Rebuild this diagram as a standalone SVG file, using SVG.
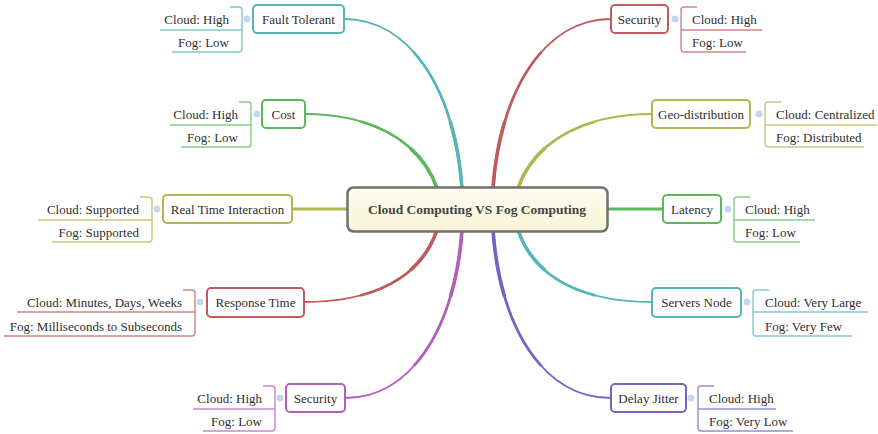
<svg xmlns="http://www.w3.org/2000/svg" width="878" height="434" viewBox="0 0 878 434">
<style>
.t{font-family:"Liberation Serif","DejaVu Serif",serif;font-size:13px;fill:#2e2e2e;font-weight:normal}
.ctr{font-family:"Liberation Serif","DejaVu Serif",serif;font-weight:bold;font-size:13.5px;fill:#444}
.box{fill:#fff;stroke-width:2}
.lf{fill:none;stroke-width:1.4;opacity:.75}
.dot{fill:#c6d6f0}
.con path{fill:none}
.w1{stroke-width:1.8}
.w2{stroke-width:2.7;stroke-dasharray:0 35 65}
.w3{stroke-width:3.6;stroke-dasharray:0 70 30}
.hz{stroke-width:3}
.teal{stroke:#55b5b8}.green{stroke:#5cb85c}.olive{stroke:#b3b650}.red{stroke:#c05a5c}.mag{stroke:#b25cbc}.blue{stroke:#6f66c4}
.e{text-anchor:end}.m{text-anchor:middle}
</style>
<defs>
<linearGradient id="cg" x1="0" y1="0" x2="0" y2="1">
<stop offset="0" stop-color="#fdfcef"/><stop offset="1" stop-color="#f8f4d6"/>
</linearGradient>
</defs>
<rect width="878" height="434" fill="#fff"/>
<g id="connectors" class="con" fill="none">
<g class="teal"><path class="w1" d="M344,19 C410,19 455,90 462,188"/><path class="w2" pathLength="100" d="M344,19 C410,19 455,90 462,188"/><path class="w3" pathLength="100" d="M344,19 C410,19 455,90 462,188"/></g>
<g class="green"><path class="w1" d="M305,114 C370,114 420,140 437,188"/><path class="w2" pathLength="100" d="M305,114 C370,114 420,140 437,188"/><path class="w3" pathLength="100" d="M305,114 C370,114 420,140 437,188"/></g>
<path class="olive hz" d="M292,209 H348"/>
<g class="red"><path class="w1" d="M304,302 C370,302 420,280 437,230"/><path class="w2" pathLength="100" d="M304,302 C370,302 420,280 437,230"/><path class="w3" pathLength="100" d="M304,302 C370,302 420,280 437,230"/></g>
<g class="mag"><path class="w1" d="M345,398 C410,398 455,330 462,230"/><path class="w2" pathLength="100" d="M345,398 C410,398 455,330 462,230"/><path class="w3" pathLength="100" d="M345,398 C410,398 455,330 462,230"/></g>
<g class="red"><path class="w1" d="M611,19 C545,19 500,90 493,188"/><path class="w2" pathLength="100" d="M611,19 C545,19 500,90 493,188"/><path class="w3" pathLength="100" d="M611,19 C545,19 500,90 493,188"/></g>
<g class="olive"><path class="w1" d="M652,114 C586,114 535,140 518,188"/><path class="w2" pathLength="100" d="M652,114 C586,114 535,140 518,188"/><path class="w3" pathLength="100" d="M652,114 C586,114 535,140 518,188"/></g>
<path class="green hz" d="M607,209 H663"/>
<g class="teal"><path class="w1" d="M652,302 C586,302 535,280 518,230"/><path class="w2" pathLength="100" d="M652,302 C586,302 535,280 518,230"/><path class="w3" pathLength="100" d="M652,302 C586,302 535,280 518,230"/></g>
<g class="blue"><path class="w1" d="M611,398 C545,398 500,330 493,230"/><path class="w2" pathLength="100" d="M611,398 C545,398 500,330 493,230"/><path class="w3" pathLength="100" d="M611,398 C545,398 500,330 493,230"/></g>
</g>
<g id="center">
<rect x="347.5" y="187.5" width="260" height="44" rx="6" fill="url(#cg)" stroke="#707070" stroke-width="2.5"/>
<text class="ctr m" x="477" y="214">Cloud Computing VS Fog Computing</text>
</g>
<g id="fault-tolerant">
<rect class="box teal" x="253" y="5" width="91" height="28" rx="4"/>
<text class="t m" x="298.5" y="23.5">Fault Tolerant</text>
<circle class="dot" cx="247" cy="19" r="3.5"/>
<path class="lf teal" d="M230,7 H239 Q242,7 242,10 V49 Q242,52 239,52 H172 M160,30 H242"/>
<text class="t e" x="229" y="24">Cloud: High</text>
<text class="t e" x="229" y="47">Fog: Low</text>
</g>
<g id="cost">
<rect class="box green" x="262" y="100" width="43" height="28" rx="4"/>
<text class="t m" x="283.5" y="118.5">Cost</text>
<circle class="dot" cx="257" cy="114" r="3.5"/>
<path class="lf green" d="M239,102 H248 Q251,102 251,105 V144 Q251,147 248,147 H181 M170,125 H251"/>
<text class="t e" x="238" y="119">Cloud: High</text>
<text class="t e" x="238" y="142">Fog: Low</text>
</g>
<g id="real-time-interaction">
<rect class="box olive" x="163" y="195" width="129" height="28" rx="4"/>
<text class="t m" x="227.5" y="213.5">Real Time Interaction</text>
<circle class="dot" cx="157" cy="209" r="3.5"/>
<path class="lf olive" d="M140,197 H149 Q152,197 152,200 V239 Q152,242 149,242 H52 M38,220 H152"/>
<text class="t e" x="139" y="214">Cloud: Supported</text>
<text class="t e" x="139" y="237">Fog: Supported</text>
</g>
<g id="response-time">
<rect class="box red" x="207" y="288" width="97" height="29" rx="4"/>
<text class="t m" x="255.5" y="306.5">Response Time</text>
<circle class="dot" cx="200" cy="302" r="3.5"/>
<path class="lf red" d="M183,290 H192 Q195,290 195,293 V333 Q195,336 192,336 H4 M17,312 H195"/>
<text class="t e" x="182" y="307">Cloud: Minutes, Days, Weeks</text>
<text class="t e" x="182" y="331">Fog: Milliseconds to Subseconds</text>
</g>
<g id="security-left">
<rect class="box mag" x="286" y="384" width="59" height="28" rx="4"/>
<text class="t m" x="315.5" y="402.5">Security</text>
<circle class="dot" cx="280" cy="398" r="3.5"/>
<path class="lf mag" d="M263,386 H272 Q275,386 275,389 V428 Q275,431 272,431 H203 M193,409 H275"/>
<text class="t e" x="262" y="403">Cloud: High</text>
<text class="t e" x="262" y="426">Fog: Low</text>
</g>
<g id="security-right">
<rect class="box red" x="611" y="5" width="57" height="28" rx="4"/>
<text class="t m" x="639.5" y="23.5">Security</text>
<circle class="dot" cx="675" cy="19" r="3.5"/>
<path class="lf red" d="M697,7 H684 Q681,7 681,10 V49 Q681,52 684,52 H746 M681,30 H762"/>
<text class="t" x="692" y="24">Cloud: High</text>
<text class="t" x="692" y="47">Fog: Low</text>
</g>
<g id="geo-distribution">
<rect class="box olive" x="652" y="100" width="98" height="28" rx="4"/>
<text class="t m" x="701" y="118.5">Geo-distribution</text>
<circle class="dot" cx="759" cy="114" r="3.5"/>
<path class="lf olive" d="M781,102 H768 Q765,102 765,105 V144 Q765,147 768,147 H864 M765,125 H877"/>
<text class="t" x="776" y="119">Cloud: Centralized</text>
<text class="t" x="776" y="142">Fog: Distributed</text>
</g>
<g id="latency">
<rect class="box green" x="663" y="195" width="58" height="28" rx="4"/>
<text class="t m" x="692" y="213.5">Latency</text>
<circle class="dot" cx="728" cy="209" r="3.5"/>
<path class="lf green" d="M750,197 H737 Q734,197 734,200 V239 Q734,242 737,242 H800 M734,220 H815"/>
<text class="t" x="745" y="214">Cloud: High</text>
<text class="t" x="745" y="237">Fog: Low</text>
</g>
<g id="servers-node">
<rect class="box teal" x="652" y="288" width="89" height="29" rx="4"/>
<text class="t m" x="696.5" y="306.5">Servers Node</text>
<circle class="dot" cx="747" cy="302" r="3.5"/>
<path class="lf teal" d="M769,290 H756 Q753,290 753,293 V333 Q753,336 756,336 H852 M753,312 H868"/>
<text class="t" x="765" y="307">Cloud: Very Large</text>
<text class="t" x="765" y="331">Fog: Very Few</text>
</g>
<g id="delay-jitter">
<rect class="box blue" x="611" y="384" width="75" height="28" rx="4"/>
<text class="t m" x="648.5" y="402.5">Delay Jitter</text>
<circle class="dot" cx="691" cy="398" r="3.5"/>
<path class="lf blue" d="M714,386 H701 Q698,386 698,389 V428 Q698,431 701,431 H793 M698,409 H776"/>
<text class="t" x="709" y="403">Cloud: High</text>
<text class="t" x="709" y="426">Fog: Very Low</text>
</g>
</svg>
